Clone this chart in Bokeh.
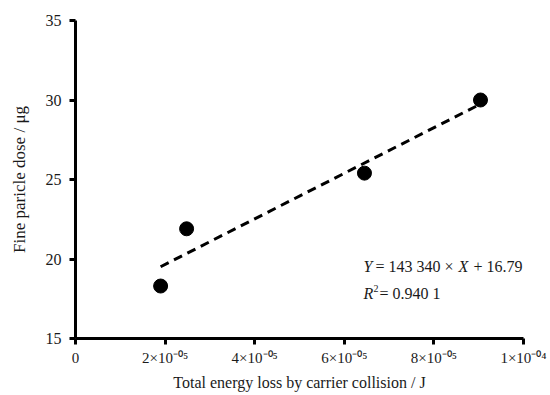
from bokeh.plotting import figure
from bokeh.models import Range1d, FixedTicker, CustomJSTickFormatter, Label
from bokeh.embed import file_html
from bokeh.resources import INLINE

# data
energy_loss = [1.9e-5, 2.48e-5, 6.45e-5, 9.04e-5]
particle_dose = [18.3, 21.9, 25.4, 30.0]
slope = 143340.0
intercept = 16.79
fit_x = [1.9e-5, 9.05e-5]
x_ticks = [0, 2e-5, 4e-5, 6e-5, 8e-5, 1e-4]
x_tick_labels = ["0", "2×10⁻⁰⁵", "4×10⁻⁰⁵", "6×10⁻⁰⁵", "8×10⁻⁰⁵", "1×10⁻⁰⁴"]
y_ticks = [15, 20, 25, 30, 35]

FONT = "Liberation Serif"

p = figure(frame_width=448, frame_height=318, output_backend="svg", toolbar_location=None,
           x_range=Range1d(0, 1e-4), y_range=Range1d(15, 35),
           min_border_left=75, min_border_right=27, min_border_top=20, min_border_bottom=50)
p.outline_line_color = None
p.xgrid.visible = False
p.ygrid.visible = False
p.background_fill_color = "white"

for ax in (p.xaxis[0], p.yaxis[0]):
    ax.axis_line_width = 3
    ax.axis_line_color = "black"
    ax.major_tick_line_width = 3
    ax.major_tick_line_color = "black"
    ax.major_tick_out = 6
    ax.major_tick_in = 0
    ax.minor_tick_line_color = None
    ax.major_label_text_font = FONT
    ax.major_label_text_color = "#1a1a1a"
    ax.axis_label_text_font = FONT
    ax.axis_label_text_font_style = "normal"
    ax.axis_label_text_color = "#1a1a1a"

p.xaxis.major_label_text_font_size = "15px"
p.yaxis.major_label_text_font_size = "16px"
p.xaxis.axis_label_text_font_size = "16px"
p.yaxis.axis_label_text_font_size = "17px"
p.xaxis.ticker = FixedTicker(ticks=x_ticks)
p.xaxis.formatter = CustomJSTickFormatter(args=dict(labels=x_tick_labels),
                                          code="return labels[Math.round(tick/2e-5)];")
p.yaxis.ticker = FixedTicker(ticks=y_ticks)
p.xaxis.axis_label = "Total energy loss by carrier collision / J"
p.yaxis.axis_label = "Fine paricle dose / μg"
p.xaxis.major_label_standoff = 5
p.yaxis.major_label_standoff = 8
p.xaxis.axis_label_standoff = 5
p.yaxis.axis_label_standoff = 14

fit_y = [slope * v + intercept for v in fit_x]
p.line(fit_x, fit_y, line_color="black", line_width=3, line_dash="9 6")
p.scatter(energy_loss, particle_dose, size=14, color="black")

eq_x = 6.43e-5
eq_pieces = [("Y", "italic", 0), ("= 143 340 ×", "normal", 12), ("X", "italic", 95), ("+ 16.79", "normal", 110)]
for txt, style, off in eq_pieces:
    p.add_layout(Label(x=eq_x, y=19.53, text=txt, x_offset=off, text_font=FONT,
                       text_font_style=style, text_font_size="16px", text_baseline="middle",
                       text_color="#1a1a1a"))
r_pieces = [("R", "italic", 0, "16px", 0), ("2", "normal", 10, "10px", 5), ("= 0.940 1", "normal", 16, "16px", 0)]
for txt, style, off, fs, yo in r_pieces:
    p.add_layout(Label(x=eq_x, y=17.83, text=txt, x_offset=off, y_offset=yo, text_font=FONT,
                       text_font_style=style, text_font_size=fs, text_baseline="middle",
                       text_color="#1a1a1a"))

open("out.html", "w").write(file_html(p, INLINE))
